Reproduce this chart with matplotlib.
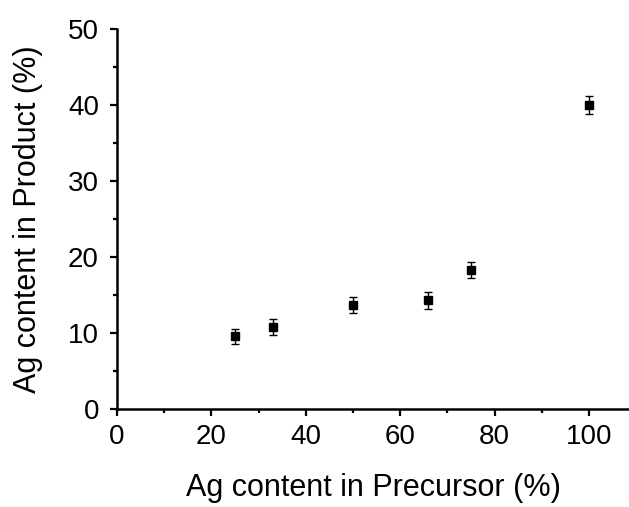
import matplotlib
matplotlib.use("Agg")
import matplotlib.pyplot as plt
from matplotlib.ticker import MultipleLocator

precursor = [25, 33, 50, 66, 75, 100]
product = [9.6, 10.8, 13.7, 14.3, 18.3, 40.0]
errors = [1.0, 1.1, 1.0, 1.1, 1.0, 1.2]

plt.rcParams['font.family'] = ['Liberation Sans', 'DejaVu Sans']

fig = plt.figure(figsize=(6.29, 5.07), dpi=100)
ax = fig.add_axes([0.186, 0.193, 0.814, 0.75])

ax.errorbar(precursor, product, yerr=errors, fmt='s', color='black',
            markersize=6.3, capsize=3.0, elinewidth=1.0, capthick=1.0, ecolor='black')

ax.set_xlim(0, 108.5)
ax.set_ylim(0, 50)
ax.xaxis.set_major_locator(MultipleLocator(20))
ax.xaxis.set_minor_locator(MultipleLocator(10))
ax.yaxis.set_major_locator(MultipleLocator(10))
ax.yaxis.set_minor_locator(MultipleLocator(5))

for s in ['top', 'right']:
    ax.spines[s].set_visible(False)
for s in ['left', 'bottom']:
    ax.spines[s].set_linewidth(1.8)

ax.tick_params(which='major', direction='out', length=5, width=1.6, labelsize=20)
ax.tick_params(axis='x', which='major', pad=6)
ax.tick_params(axis='y', which='major', pad=8)
ax.tick_params(which='minor', direction='out', length=3, width=1.6)

ax.set_xlabel('Ag content in Precursor (%)', fontsize=22, labelpad=16)
ax.set_ylabel('Ag content in Product (%)', fontsize=22, labelpad=18)

fig.savefig('out.png', dpi=100)
